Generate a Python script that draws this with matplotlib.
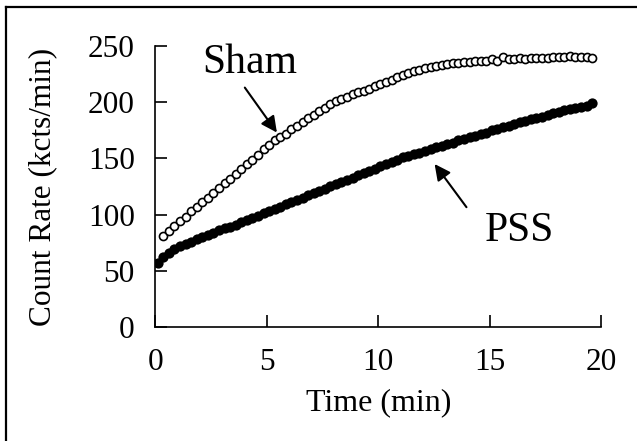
import matplotlib
matplotlib.use("Agg")
import matplotlib.pyplot as plt
from matplotlib.lines import Line2D

plt.rcParams['font.family'] = ['Liberation Serif', 'DejaVu Serif']

# Time (min) sampled every 15 s
sham_t = [0.35, 0.60, 0.85, 1.10, 1.35, 1.60, 1.85, 2.10, 2.35, 2.60, 2.85, 3.10, 3.35,
          3.60, 3.85, 4.10, 4.35, 4.60, 4.85, 5.10, 5.35, 5.60, 5.85, 6.10, 6.35, 6.60,
          6.85, 7.10, 7.35, 7.60, 7.85, 8.10, 8.35, 8.60, 8.85, 9.10, 9.35, 9.60, 9.85,
          10.10, 10.35, 10.60, 10.85, 11.10, 11.35, 11.60, 11.85, 12.10, 12.35, 12.60,
          12.85, 13.10, 13.35, 13.60, 13.85, 14.10, 14.35, 14.60, 14.85, 15.10, 15.35,
          15.60, 15.85, 16.10, 16.35, 16.60, 16.85, 17.10, 17.35, 17.60, 17.85, 18.10,
          18.35, 18.60, 18.85, 19.10, 19.35, 19.60]
sham_y = [81, 85, 90, 94, 98, 103, 107, 111, 115, 119, 124, 128, 132,
          136, 141, 145, 149, 153, 158, 162, 166, 169, 172, 176, 179, 182,
          186, 189, 192, 195, 198, 201, 203, 205, 207, 209, 210, 212, 214,
          216, 218, 220, 222, 224, 226, 228, 229, 230, 231, 232,
          233, 234, 235, 235, 236, 236, 237, 237, 237, 238, 237,
          240, 238, 238, 239, 238, 239, 239, 239, 239, 240, 240,
          240, 241, 240, 240, 240, 239]

pss_t = [0.10, 0.35, 0.60, 0.85, 1.10, 1.35, 1.60, 1.85, 2.10, 2.35, 2.60, 2.85, 3.10,
         3.35, 3.60, 3.85, 4.10, 4.35, 4.60, 4.85, 5.10, 5.35, 5.60, 5.85, 6.10, 6.35,
         6.60, 6.85, 7.10, 7.35, 7.60, 7.85, 8.10, 8.35, 8.60, 8.85, 9.10, 9.35, 9.60,
         9.85, 10.10, 10.35, 10.60, 10.85, 11.10, 11.35, 11.60, 11.85, 12.10, 12.35,
         12.60, 12.85, 13.10, 13.35, 13.60, 13.85, 14.10, 14.35, 14.60, 14.85, 15.10,
         15.35, 15.60, 15.85, 16.10, 16.35, 16.60, 16.85, 17.10, 17.35, 17.60, 17.85,
         18.10, 18.35, 18.60, 18.85, 19.10, 19.35, 19.60]
pss_y = [57, 62, 66, 69, 72, 74, 76, 78, 80, 82, 84, 86, 88,
         89, 91, 93, 95, 97, 99, 101, 103, 105, 107, 109, 111, 113,
         115, 117, 119, 121, 123, 125, 127, 129, 131, 133, 135, 137, 139,
         141, 143, 145, 147, 149, 151, 152, 154, 155, 157, 158,
         160, 161, 163, 164, 166, 167, 169, 170, 172, 173, 175,
         176, 178, 179, 181, 182, 183, 185, 186, 187, 189, 190,
         191, 193, 194, 195, 196, 197, 199]

x_ticks = [0, 5, 10, 15, 20]
y_ticks = [0, 50, 100, 150, 200, 250]

fig = plt.figure(figsize=(6.37, 4.41), dpi=100)
ax = fig.add_axes([0.2441, 0.2585, 0.6994, 0.6372])

ax.plot(pss_t, pss_y, 'o', color='black', markersize=7.4, markeredgewidth=0, zorder=2)
ax.plot(sham_t, sham_y, 'o', markerfacecolor='white', markeredgecolor='black',
        markersize=5.8, markeredgewidth=1.2, zorder=3)

ax.set_xlim(0, 20)
ax.set_ylim(0, 250)
ax.set_xticks(x_ticks)
ax.set_yticks(y_ticks)
for s in ['top', 'right']:
    ax.spines[s].set_visible(False)
for s in ['left', 'bottom']:
    ax.spines[s].set_linewidth(1.2)
ax.tick_params(direction='in', length=8.5, width=1.2, labelsize=22.5)
ax.tick_params(axis='y', pad=15)
ax.tick_params(axis='x', pad=15)
ax.set_xlabel('Time (min)', fontsize=23, labelpad=8)
ax.set_ylabel('Count Rate (kcts/min)', fontsize=22.5, labelpad=22)

arrow = dict(arrowstyle='-|>', color='black', lw=1.5, mutation_scale=24,
             shrinkA=0, shrinkB=0)
ax.text(4.24, 235, 'Sham', fontsize=30, ha='center', va='center')
ax.annotate('', xy=(5.45, 173), xytext=(4.01, 213), arrowprops=arrow)
ax.text(16.35, 86, 'PSS', fontsize=30, ha='center', va='center')
ax.annotate('', xy=(12.53, 145), xytext=(13.96, 106.6), arrowprops=arrow)

# partial frame around the figure (left and top edges)
fig.add_artist(Line2D([5.5/637, 5.5/637], [0, 1 - 7/441], color='black', lw=1.6,
                      transform=fig.transFigure))
fig.add_artist(Line2D([5.5/637, 1], [1 - 7/441, 1 - 7/441], color='black', lw=1.6,
                      transform=fig.transFigure))

fig.savefig('out.png', dpi=100)
